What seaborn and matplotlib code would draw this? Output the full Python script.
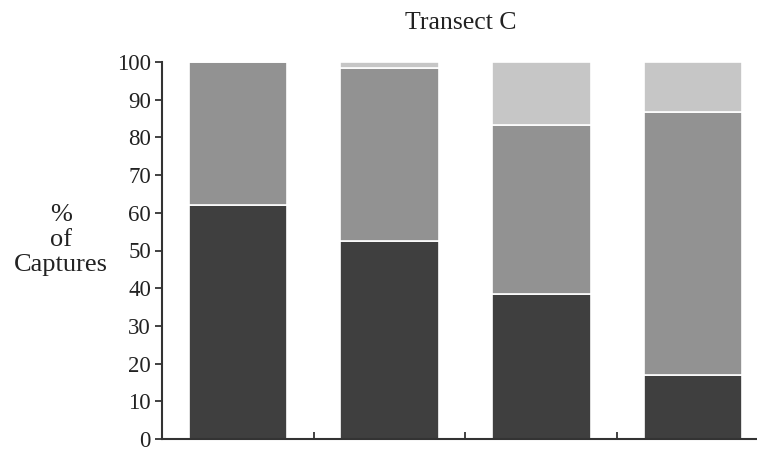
import matplotlib
matplotlib.use("Agg")
import matplotlib.pyplot as plt
import seaborn as sns
import pandas as pd
import numpy as np

# data (% of captures per group, stacked from bottom)
categories = ["1", "2", "3", "4"]
lower = [62.0, 52.5, 38.5, 17.0]
middle = [38.0, 46.0, 44.8, 69.8]
upper = [0.0, 1.5, 16.7, 13.2]
y_ticks = [0, 10, 20, 30, 40, 50, 60, 70, 80, 90, 100]
title = "Transect C"
ylabel = "%\nof\nCaptures"

sns.set_theme(style="white")
plt.rcParams["font.family"] = ["Liberation Serif", "DejaVu Serif"]

fig = plt.figure(figsize=(7.57, 4.54), dpi=100)
ax = fig.add_axes([162 / 757, 1 - 439 / 454, (769 - 162) / 757, 377 / 454])

df = pd.DataFrame({"cat": categories, "lower": lower, "middle": middle, "upper": upper})
b1 = np.array(lower)
b2 = b1 + np.array(middle)

sns.barplot(data=df, x="cat", y="lower", color="#3f3f3f", width=0.65,
            edgecolor="white", linewidth=1.2, ax=ax, saturation=1)
sns.barplot(data=df, x="cat", y="middle", bottom=b1, color="#929292", width=0.65,
            edgecolor="white", linewidth=1.2, ax=ax, saturation=1)
sns.barplot(data=df, x="cat", y="upper", bottom=b2, color="#c6c6c6", width=0.65,
            edgecolor="white", linewidth=1.2, ax=ax, saturation=1)

ax.set_xlim(-0.5, 3.5)
ax.set_ylim(0, 100)
ax.set_yticks(y_ticks)
ax.set_yticklabels([str(t) for t in y_ticks], fontsize=16.5, color="#222222")
ax.set_xticks(range(len(categories)))
ax.set_xticklabels([])
ax.set_xticks([0.5, 1.5, 2.5], minor=True)
ax.tick_params(axis="x", which="major", length=0)
ax.tick_params(axis="x", which="minor", direction="in", length=5, width=1.3,
               color="#333333", bottom=True)
ax.tick_params(axis="y", direction="out", length=5, width=1.3, color="#333333",
               pad=3, left=True)
ax.set_xlabel("")
ax.set_ylabel("")

for s in ["top", "right"]:
    ax.spines[s].set_visible(False)
for s in ["left", "bottom"]:
    ax.spines[s].set_visible(True)
    ax.spines[s].set_color("#333333")
    ax.spines[s].set_linewidth(1.5)

fig.text(461 / 757, 1 - 23 / 454, title, ha="center", va="center",
         fontsize=18.5, color="#222222")
fig.text(61 / 757, 1 - 240 / 454, ylabel, ha="center", va="center",
         multialignment="center", fontsize=19, color="#222222", linespacing=1.18)

fig.savefig("out.png", dpi=100)
